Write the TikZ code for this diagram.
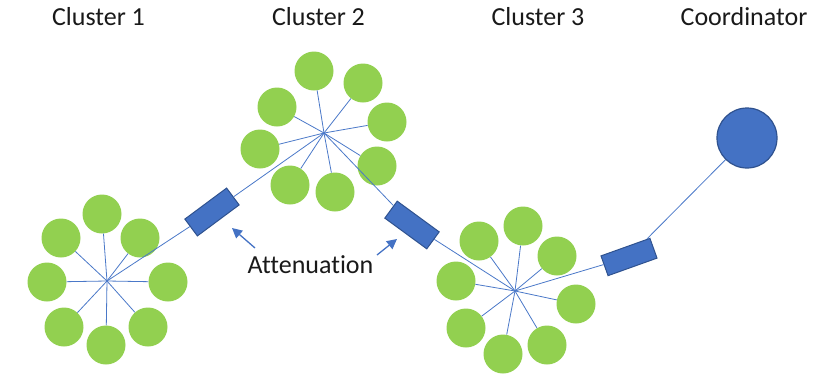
\documentclass[tikz,border=0pt]{standalone}
\usepackage{fontspec}
\setmainfont[Ligatures={NoCommon}]{Carlito}
\usetikzlibrary{arrows.meta}
\definecolor{leaf}{HTML}{92D050}
\definecolor{acc}{HTML}{4472C4}
\definecolor{accdark}{HTML}{2F528F}
\definecolor{wire}{HTML}{4A78C8}
\tikzset{
  leafnode/.style={circle,fill=leaf,draw=none,minimum size=39pt,inner sep=0pt},
  attbox/.style={rectangle,fill=acc,draw=accdark,line width=1pt,minimum width=52pt,minimum height=21pt,inner sep=0pt},
  coordnode/.style={circle,fill=acc,draw=accdark,line width=1.2pt,minimum size=60pt,inner sep=0pt},
  wireline/.style={draw=wire,line width=0.8pt},
  label/.style={font=\fontsize{26}{30}\selectfont,text=black!90,anchor=base,inner sep=0pt},
  pointer/.style={draw=acc,line width=1.3pt,-{Triangle[length=10pt,width=10pt]}}
}
\begin{document}
\begin{tikzpicture}[x=1pt,y=-1pt]
\useasboundingbox (0,0) rectangle (823,373);
% hubs
\coordinate (h1) at (107,281);
\coordinate (h2) at (324,133);
\coordinate (h3) at (515,291);
% cluster 1
\node[leafnode] (a1) at (102,214) {};
\node[leafnode] (a2) at (61,238) {};
\node[leafnode] (a3) at (140,238) {};
\node[leafnode] (a4) at (47,282) {};
\node[leafnode] (a5) at (168,282) {};
\node[leafnode] (a6) at (64,327) {};
\node[leafnode] (a7) at (106,345) {};
\node[leafnode] (a8) at (148,327) {};
% cluster 2
\node[leafnode] (b1) at (314,71) {};
\node[leafnode] (b2) at (363,83) {};
\node[leafnode] (b3) at (387,122) {};
\node[leafnode] (b4) at (377,166) {};
\node[leafnode] (b5) at (335,192) {};
\node[leafnode] (b6) at (290,185) {};
\node[leafnode] (b7) at (260,149) {};
\node[leafnode] (b8) at (277,107) {};
% cluster 3
\node[leafnode] (c1) at (523,226) {};
\node[leafnode] (c2) at (479,241) {};
\node[leafnode] (c3) at (557,256) {};
\node[leafnode] (c4) at (456,281) {};
\node[leafnode] (c5) at (576,304) {};
\node[leafnode] (c6) at (466,328) {};
\node[leafnode] (c7) at (503,354) {};
\node[leafnode] (c8) at (547,345) {};
% attenuators and coordinator
\node[attbox,rotate=36.6] (r1) at (212,212) {};
\node[attbox,rotate=-36.2] (r2) at (412,225) {};
\node[attbox,rotate=19.7] (r3) at (629,257) {};
\node[coordnode] (co) at (747,138) {};
% spokes
\foreach \n in {a1,a2,a3,a4,a5,a6,a7,a8} \draw[wireline] (h1) -- (\n);
\foreach \n in {b1,b2,b3,b4,b5,b6,b7,b8} \draw[wireline] (h2) -- (\n);
\foreach \n in {c1,c2,c3,c4,c5,c6,c7,c8} \draw[wireline] (h3) -- (\n);
% backbone
\draw[wireline] (h1) -- (r1);
\draw[wireline] (r1) -- (h2);
\draw[wireline] (h2) -- (r2);
\draw[wireline] (r2) -- (h3);
\draw[wireline] (h3) -- (r3);
\draw[wireline] (r3) -- (co);
% labels
\node[label] (l1) at (98.5,25) {Cluster 1};
\node[label] (l2) at (318.5,25) {Cluster 2};
\node[label] (l3) at (538,25) {Cluster 3};
\node[label] (l4) at (744,25) {Coordinator};
\node[label] (att) at (310.5,273) {Attenuation};
\coordinate (p1) at (255,248);
\coordinate (t1) at (232,228);
\coordinate (p2) at (377,255);
\coordinate (t2) at (397,239);
\draw[pointer] (p1) -- (t1);
\draw[pointer] (p2) -- (t2);
\end{tikzpicture}
\end{document}
